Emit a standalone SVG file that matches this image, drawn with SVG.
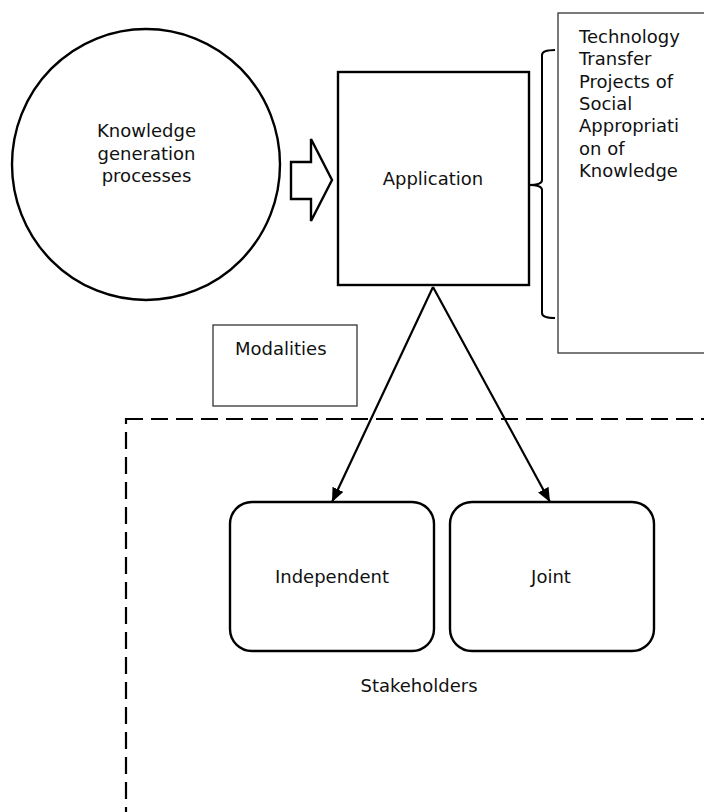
<svg xmlns="http://www.w3.org/2000/svg" width="704" height="812" viewBox="0 0 704 812">
<style>
text{font-family:"DejaVu Sans","Liberation Sans",sans-serif;font-size:18px;fill:#111}
.c{text-anchor:middle}
.thick{fill:#fff;stroke:#000;stroke-width:2.4}
.thin{fill:#fff;stroke:#333;stroke-width:1.3}
.conn{fill:none;stroke:#000;stroke-width:2.2}
</style>
<defs>
<marker id="ah" viewBox="0 0 14 12" refX="14" refY="6" markerWidth="14" markerHeight="12" markerUnits="userSpaceOnUse" orient="auto">
<path d="M0,0 L14,6 L0,12 Z" fill="#000"/>
</marker>
</defs>
<g id="stakeholders">
<rect x="126" y="419" width="620" height="420" fill="none" stroke="#000" stroke-width="2.2" stroke-dasharray="17 8"/>
<text class="c" x="419" y="692">Stakeholders</text>
</g>
<g id="knowledge">
<ellipse cx="146" cy="164.5" rx="134" ry="135.5" class="thick" stroke-width="2"/>
<text class="c" x="146.5" y="137">Knowledge</text>
<text class="c" x="146.5" y="159.5">generation</text>
<text class="c" x="146.5" y="182">processes</text>
</g>
<g id="block-arrow">
<path d="M291,162 L311,162 L311,139 L332,180 L311,221 L311,199 L291,199 Z" class="thick" stroke-width="2"/>
</g>
<g id="application">
<rect x="338" y="72" width="191" height="213" class="thick"/>
<text class="c" x="433" y="185">Application</text>
</g>
<g id="bracket">
<path d="M555,50 Q542,50 542,55 L542,180 Q542,185 529,185 Q542,185 542,190 L542,313 Q542,318 555,318" fill="none" stroke="#000" stroke-width="2"/>
</g>
<g id="projects">
<rect x="558" y="13" width="160" height="340" class="thin"/>
<text x="579" y="43">Technology</text>
<text x="579" y="65.3">Transfer</text>
<text x="579" y="87.7">Projects of</text>
<text x="579" y="110">Social</text>
<text x="579" y="132.3">Appropriati</text>
<text x="579" y="154.7">on of</text>
<text x="579" y="177">Knowledge</text>
</g>
<g id="modalities">
<rect x="213" y="325" width="144" height="81" class="thin"/>
<text x="235" y="355">Modalities</text>
</g>
<g id="independent">
<rect x="230" y="502" width="204" height="149" rx="22" class="thick"/>
<text class="c" x="332" y="583">Independent</text>
</g>
<g id="joint">
<rect x="450" y="502" width="204" height="149" rx="22" class="thick"/>
<text class="c" x="551" y="583">Joint</text>
</g>
<g id="connectors">
<line x1="433" y1="287" x2="332" y2="502" class="conn" marker-end="url(#ah)"/>
<line x1="433" y1="287" x2="550" y2="502" class="conn" marker-end="url(#ah)"/>
</g>
</svg>
